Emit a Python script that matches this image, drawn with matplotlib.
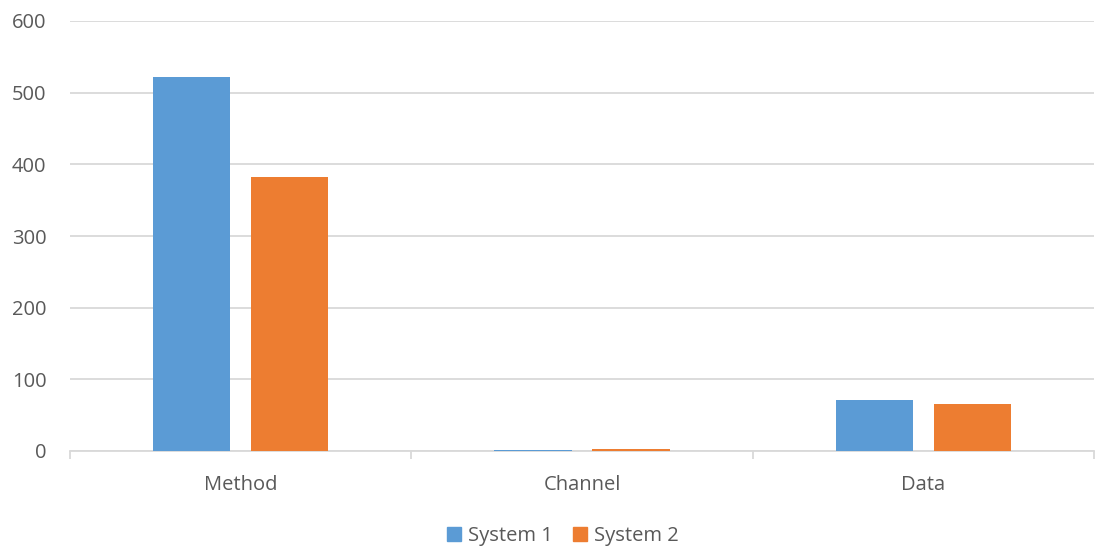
import matplotlib.pyplot as plt
import numpy as np
from matplotlib.patches import Patch

# data
categories = ["Method", "Channel", "Data"]
system1 = [522, 2, 71]
system2 = [383, 3, 66]
yticks = [0, 100, 200, 300, 400, 500, 600]

c1 = "#5b9bd5"
c2 = "#ed7d31"
grid_c = "#d9d9d9"
text_c = "#595959"

plt.rcParams['font.family'] = ['Open Sans', 'DejaVu Sans']

fig = plt.figure(figsize=(10.95, 5.49), dpi=100)
ax = fig.add_axes([70 / 1095, 1 - 451 / 549, 1024 / 1095, 430 / 549])

x = np.arange(len(categories))
w = 0.226
off = 0.1436
ax.bar(x - off, system1, w, color=c1, zorder=3)
ax.bar(x + off, system2, w, color=c2, zorder=3)

ax.set_xlim(-0.5, len(categories) - 0.5)
ax.set_ylim(0, 600)
ax.set_yticks(yticks)
ax.yaxis.grid(True, color=grid_c, linewidth=1.3, zorder=0)
ax.set_axisbelow(True)

for s in ["top", "right", "left"]:
    ax.spines[s].set_visible(False)
ax.spines["bottom"].set_color(grid_c)
ax.spines["bottom"].set_linewidth(1.3)

ax.set_xticks(x)
ax.set_xticklabels(categories)
ax.set_xticks(np.arange(len(categories) + 1) - 0.5, minor=True)
ax.tick_params(axis="x", which="major", length=0, pad=17, labelsize=14.5, labelcolor=text_c)
ax.tick_params(axis="x", which="minor", length=6, color=grid_c, width=1.3)
ax.tick_params(axis="y", length=0, pad=17, labelsize=14.5, labelcolor=text_c)

handles = [Patch(color=c1, label="System 1"), Patch(color=c2, label="System 2")]
fig.legend(handles=handles, loc="center", bbox_to_anchor=(0.514, 1 - 536 / 549),
           ncol=2, frameon=False, fontsize=14.5, handlelength=0.7, handleheight=0.7,
           handletextpad=0.35, columnspacing=1.0, labelcolor=text_c)

fig.savefig("out.png", dpi=100)
